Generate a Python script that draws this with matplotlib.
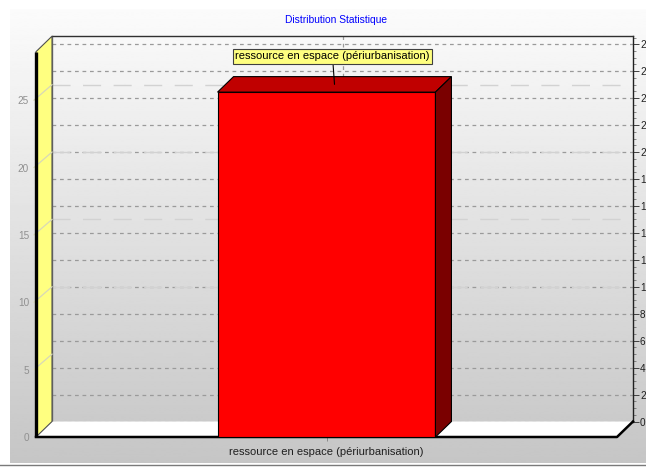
import numpy as np
import matplotlib
matplotlib.use("Agg")
import matplotlib.pyplot as plt
from matplotlib.patches import Polygon
from matplotlib.transforms import ScaledTranslation, IdentityTransform

# Chart content
title = "Distribution Statistique"
categories = ["ressource en espace (périurbanisation)"]
values = [25.6]
left_ticks = [0, 5, 10, 15, 20, 25]
right_ticks = list(range(0, 29, 2))
y_max = 28.6

W, H = 646, 470
DX, DY = 16, 15.5          # depth of the 3D effect, in pixels
FS = 7.2                   # axis tick labels
FS_CAT = 8.0               # category and item labels

plt.rcParams["font.family"] = ["Liberation Sans", "DejaVu Sans"]
fig = plt.figure(figsize=(W / 100, H / 100), dpi=100)
fig.patch.set_facecolor("white")


def fx(px):
    return px / W


def fy(py):
    return 1 - py / H


# chart background: vertical white-to-grey gradient
bg = fig.add_axes([0, 0, 1, 1], zorder=-10)
bg.set_xlim(0, W)
bg.set_ylim(H, 0)
bg.axis("off")
grad = np.linspace(0.985, 0.775, 256)[:, None]
bg.imshow(grad, cmap="gray", vmin=0, vmax=1, extent=[10, W, 463, 9],
          aspect="auto", interpolation="bilinear")
bg.plot([0, W], [464.5, 464.5], color="#7a7a7a", lw=1)

# front plane axes (bar front, left axis, category axis)
ax = fig.add_axes([fx(36), fy(437), (617 - 36) / W, (437 - 51.7) / H], zorder=2)
# back wall axes (grid and right axis)
axb = fig.add_axes([fx(36 + DX), fy(437 - DY), (617 - 36) / W, (437 - 51.7) / H], zorder=1)

for a in (ax, axb):
    a.set_xlim(-0.5, 0.5)
    a.set_ylim(0, y_max)
    a.patch.set_alpha(0)

off = ScaledTranslation(DX / 100, DY / 100, fig.dpi_scale_trans)


def disp(trans, pts):
    return trans.transform(np.asarray(pts, dtype=float))


# ---- back wall ----
axb.spines["bottom"].set_visible(False)
axb.spines["top"].set_color("#303030")
axb.spines["right"].set_color("#202020")
axb.spines["left"].set_color("#707070")
for s in ("top", "right", "left"):
    axb.spines[s].set_linewidth(1.0)

axb.hlines(right_ticks, -0.5, 0.5, colors="#9a9a9a", lw=0.9,
           linestyles=(0, (3, 3)), zorder=1)
axb.hlines(left_ticks[1:], -0.5, 0.5, colors="#d2d2d2", lw=1.0,
           linestyles=(0, (13, 9)), zorder=1)
axb.vlines([0], 0, y_max, colors="#9a9a9a", lw=0.9,
           linestyles=(0, (3, 3)), zorder=1)

axb.set_xticks([])
axb.yaxis.tick_right()
axb.set_yticks(right_ticks)
axb.set_yticks(np.arange(0, y_max, 0.5), minor=True)
axb.tick_params(axis="y", which="major", direction="out", length=4, width=0.7,
                colors="#404040", labelsize=FS, pad=1, labelcolor="#202020")
axb.tick_params(axis="y", which="minor", direction="out", length=2, width=0.5,
                colors="#606060")
axb.tick_params(axis="y", which="both", left=False)

# ---- front plane ----
for s in ax.spines.values():
    s.set_visible(False)

# floor
front = disp(ax.transAxes, [(0, 0), (1, 0)])
back = disp(ax.transAxes + off, [(1, 0), (0, 0)])
floor = Polygon(np.vstack([front, back]), closed=True, transform=IdentityTransform(),
                facecolor="white", edgecolor="none", zorder=1, clip_on=False)
ax.add_patch(floor)
edge2 = disp(ax.transAxes + off, [(1, 0)])
ax.add_line(plt.Line2D([front[0][0], front[1][0], edge2[0][0]],
                       [front[0][1], front[1][1], edge2[0][1]],
                       transform=IdentityTransform(), color="black", lw=1.8,
                       zorder=2, clip_on=False))

# left side wall
wf = disp(ax.transAxes, [(0, 0), (0, 1)])
wb = disp(ax.transAxes + off, [(0, 1), (0, 0)])
wall = Polygon(np.vstack([wf, wb]), closed=True, transform=IdentityTransform(),
               facecolor="#ffff80", edgecolor="#505050", lw=0.8, zorder=1,
               clip_on=False)
ax.add_patch(wall)

# guide lines from the left axis onto the back wall
for t in left_ticks[1:]:
    p = disp(ax.transData, [(-0.5, t)])[0]
    q = disp(ax.transData + off, [(-0.5, t)])[0]
    ax.add_line(plt.Line2D([p[0] - 2, q[0]], [p[1], q[1]],
                           transform=IdentityTransform(), color="#d8d8b8",
                           lw=0.9, zorder=1.5, clip_on=False))

# left axis line
la = disp(ax.transAxes, [(0, 0), (0, 1)])
ax.add_line(plt.Line2D(la[:, 0], la[:, 1], transform=IdentityTransform(),
                       color="black", lw=2.4, zorder=4, clip_on=False,
                       solid_capstyle="butt"))

# bars with 3D top and side faces
width = 0.375
x = np.arange(len(categories))
ax.bar(x, values, width=width, color="#ff0000", edgecolor="black", lw=0.8, zorder=3)
half = ScaledTranslation(DX / 200, DY / 200, fig.dpi_scale_trans)
for xi, v in zip(x, values):
    x0, x1 = xi - width / 2, xi + width / 2
    f = disp(ax.transData, [(x0, v), (x1, v)])
    b = disp(ax.transData + off, [(x1, v), (x0, v)])
    ax.add_patch(Polygon(np.vstack([f, b]), closed=True, transform=IdentityTransform(),
                         facecolor="#c00000", edgecolor="black", lw=0.8, zorder=3,
                         clip_on=False))
    sf = disp(ax.transData, [(x1, 0), (x1, v)])
    sb = disp(ax.transData + off, [(x1, v), (x1, 0)])
    ax.add_patch(Polygon(np.vstack([sf, sb]), closed=True, transform=IdentityTransform(),
                         facecolor="#7a0000", edgecolor="black", lw=0.8, zorder=3,
                         clip_on=False))
    # item label
    ax.annotate(categories[int(xi)], xy=(xi, v), xycoords=ax.transData + half,
                xytext=(-2, 28), textcoords="offset pixels", ha="center",
                va="center", fontsize=FS_CAT, color="black", zorder=6,
                bbox=dict(boxstyle="square,pad=0.22", facecolor="#ffff80",
                          edgecolor="#404040", lw=0.8),
                arrowprops=dict(arrowstyle="-", color="black", lw=0.8,
                                shrinkA=0, shrinkB=0))

ax.set_xticks(x)
ax.set_xticklabels(categories)
ax.tick_params(axis="x", direction="out", length=3, width=0.6, colors="#808080",
               labelsize=FS_CAT, labelcolor="#202020", pad=4)
ax.set_yticks(left_ticks)
ax.tick_params(axis="y", length=0, labelsize=FS, labelcolor="#909090", pad=5)

fig.text(fx(336), fy(20), title, color="#0000ff", fontsize=7.4,
         ha="center", va="center")

fig.savefig("out.png", dpi=100)
